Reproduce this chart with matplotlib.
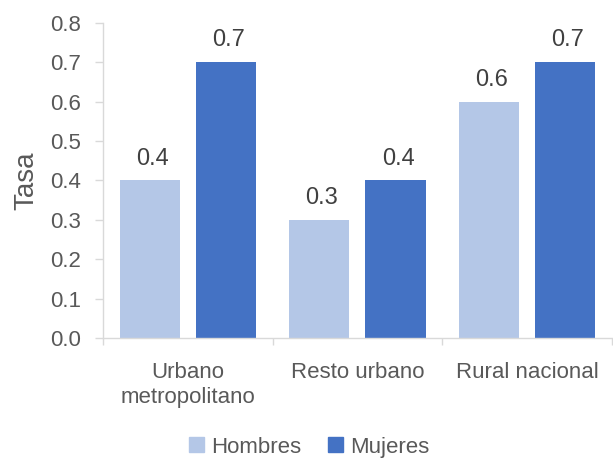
import numpy as np
import matplotlib.pyplot as plt
from matplotlib.patches import Patch

plt.rcParams['font.family'] = ['Liberation Sans', 'DejaVu Sans']

categorias = ["Urbano\nmetropolitano", "Resto urbano", "Rural nacional"]
hombres = [0.4, 0.3, 0.6]
mujeres = [0.7, 0.4, 0.7]
series = ["Hombres", "Mujeres"]
colores = ["#B4C7E7", "#4472C4"]
texto = "#595959"
eje = "#D9D9D9"
fs = 16

fig = plt.figure(figsize=(6.13, 4.61), dpi=100)
ax = fig.add_axes([0.168, 0.267, 0.830, 0.683])

x = np.arange(len(categorias))
ancho = 0.355
for vals, off, col in [(hombres, -0.225, colores[0]), (mujeres, 0.225, colores[1])]:
    bars = ax.bar(x + off, vals, ancho, color=col)
    for b, v in zip(bars, vals):
        ax.annotate(f"{v:.1f}", (b.get_x() + b.get_width() / 2, v),
                    xytext=(2, 11.5), textcoords="offset points",
                    ha="center", va="baseline", fontsize=17, color="#404040")

ax.set_xlim(-0.5, 2.5)
ax.set_ylim(0, 0.8)
ax.set_yticks(np.arange(0, 0.81, 0.1))
ax.set_yticklabels([f"{t:.1f}" for t in np.arange(0, 0.81, 0.1)])
ax.set_xticks(x)
ax.set_xticklabels(categorias, linespacing=1.25)
ax.set_xticks([-0.5, 0.5, 1.5, 2.5], minor=True)
ax.tick_params(axis="x", which="major", length=0, pad=17, labelsize=fs, labelcolor=texto)
ax.tick_params(axis="x", which="minor", length=5, color=eje, width=1)
ax.tick_params(axis="y", length=5.5, color=eje, width=1, pad=10, labelsize=fs, labelcolor=texto)

for s in ["top", "right"]:
    ax.spines[s].set_visible(False)
for s in ["left", "bottom"]:
    ax.spines[s].set_color(eje)
    ax.spines[s].set_linewidth(1)

ax.set_ylabel("Tasa", fontsize=20, color=texto, labelpad=8)

handles = [Patch(color=c) for c in colores]
fig.legend(handles, series, loc="lower center", bbox_to_anchor=(0.505, -0.036), ncol=2,
           frameon=False, fontsize=fs, labelcolor=texto, handlelength=0.65,
           handleheight=0.65, handletextpad=0.35, columnspacing=1.2)

fig.savefig("out.png", dpi=100)
